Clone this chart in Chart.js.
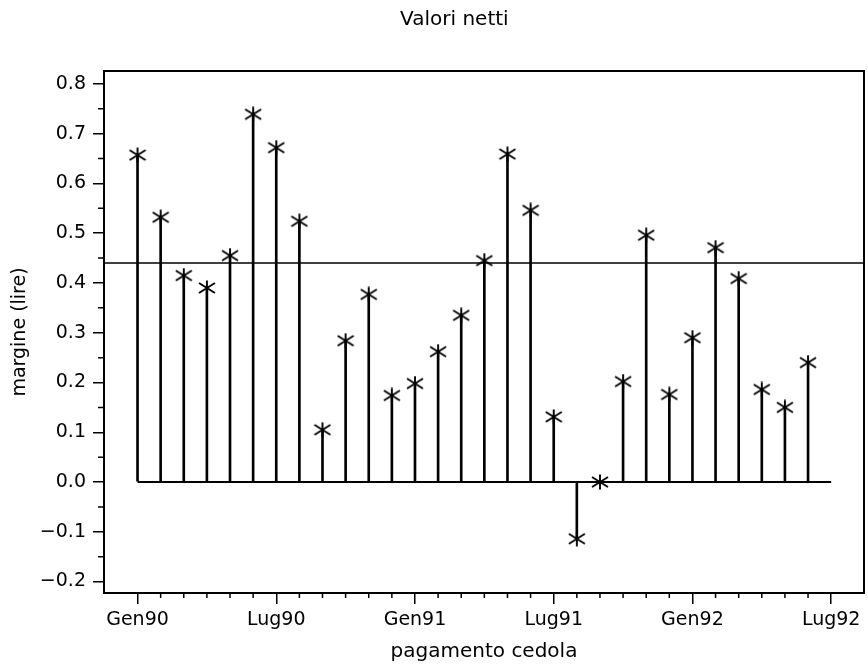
<!DOCTYPE html>
<html>
<head>
<meta charset="utf-8">
<title>Valori netti</title>
<script src="https://cdn.jsdelivr.net/npm/chart.js@4.4.0/dist/chart.umd.min.js"></script>
<style>
  html, body { margin: 0; padding: 0; background: #fff; }
</style>
</head>
<body>
<canvas id="myChart" width="868" height="665"></canvas>
<script>
const chartTitle = "Valori netti";

// months counted from Gen90 = 0 (one coupon per month, Gen90 .. Giu92)
const months = [0, 1, 2, 3, 4, 5, 6, 7, 8, 9, 10, 11, 12, 13, 14,
  15, 16, 17, 18, 19, 20, 21, 22, 23, 24, 25, 26, 27, 28, 29];
const margins = [0.657, 0.532, 0.415, 0.39, 0.455, 0.739, 0.672, 0.524, 0.105, 0.284,
  0.377, 0.174, 0.198, 0.262, 0.335, 0.445, 0.659, 0.546, 0.131, -0.114,
  0.0, 0.202, 0.496, 0.176, 0.29, 0.471, 0.409, 0.186, 0.15, 0.24];
const refLevel = 0.44;

const tickMonths = [0, 6, 12, 18, 24, 30];
const tickNames = ["Gen90", "Lug90", "Gen91", "Lug91", "Gen92", "Lug92"];
const yTicks = [-0.2, -0.1, 0.0, 0.1, 0.2, 0.3, 0.4, 0.5, 0.6, 0.7, 0.8];

const xMin = -1.45, xMax = 31.42;
const yMin = -0.223, yMax = 0.826;

Chart.defaults.font.family = "'DejaVu Sans', sans-serif";
Chart.defaults.font.size = 19;
Chart.defaults.color = "#000";

// asterisk marker
function makeStar() {
  const c = document.createElement("canvas");
  c.width = 18; c.height = 16;
  const g = c.getContext("2d");
  g.strokeStyle = "#000";
  g.lineWidth = 1.9;
  g.beginPath();
  g.moveTo(9, 0.5); g.lineTo(9, 15.5);
  g.moveTo(1, 3); g.lineTo(17, 13);
  g.moveTo(1, 13); g.lineTo(17, 3);
  g.stroke();
  return c;
}
const star = makeStar();

// box, minor ticks and the title
const framePlugin = {
  id: "frame",
  afterDraw(chart) {
    const { ctx, chartArea: a, scales } = chart;
    ctx.save();
    ctx.strokeStyle = "#000";
    ctx.lineWidth = 2;
    ctx.strokeRect(a.left, a.top, a.right - a.left, a.bottom - a.top);
    ctx.lineWidth = 1.5;
    ctx.beginPath();
    for (let m = tickMonths[0]; m <= tickMonths[tickMonths.length - 1]; m++) {
      if (m % 6 === 0) continue;
      const px = scales.x.getPixelForValue(m);
      ctx.moveTo(px, a.bottom);
      ctx.lineTo(px, a.bottom + 5);
    }
    for (let k = -4; k <= 16; k++) {
      if (k % 2 === 0) continue;
      const py = scales.y.getPixelForValue(k * 0.05);
      ctx.moveTo(a.left - 6, py);
      ctx.lineTo(a.left, py);
    }
    ctx.stroke();
    ctx.fillStyle = "#000";
    ctx.font = "20px 'DejaVu Sans', sans-serif";
    ctx.textAlign = "center";
    ctx.textBaseline = "middle";
    ctx.fillText(chartTitle, a.left + (a.right - a.left) * 0.461, 20);
    ctx.restore();
  }
};

const ctx = document.getElementById("myChart");

new Chart(ctx, {
  type: "scatter",
  data: {
    datasets: [
      {
        type: "scatter",
        data: months.map((m, i) => ({ x: m, y: margins[i] })),
        pointStyle: star,
        pointRadius: 0.5,
        pointBorderWidth: 0,
        order: 0
      },
      {
        type: "bar",
        data: months.map((m, i) => ({ x: m, y: margins[i] })),
        backgroundColor: "#000",
        barThickness: 2,
        order: 1
      },
      {
        type: "line",
        data: [{ x: tickMonths[0], y: 0 }, { x: tickMonths[tickMonths.length - 1], y: 0 }],
        borderColor: "#000",
        borderWidth: 2,
        pointRadius: 0,
        order: 2
      },
      {
        type: "line",
        data: [{ x: xMin, y: refLevel }, { x: xMax, y: refLevel }],
        borderColor: "#000",
        borderWidth: 1.5,
        pointRadius: 0,
        order: 2
      }
    ]
  },
  options: {
    responsive: false,
    animation: false,
    devicePixelRatio: 1,
    layout: { padding: { top: 71, right: 2, left: 0, bottom: 0 } },
    plugins: {
      legend: { display: false },
      tooltip: { enabled: false },
      title: { display: false }
    },
    scales: {
      x: {
        type: "linear",
        min: xMin,
        max: xMax,
        offset: false,
        afterBuildTicks: (s) => { s.ticks = tickMonths.map((v) => ({ value: v })); },
        afterFit: (s) => { s.height = 72; s.paddingLeft = 0; s.paddingRight = 0; },
        grid: { drawOnChartArea: false, offset: false, tickLength: 11, color: "#000", lineWidth: 1.5 },
        border: { display: false },
        ticks: {
          color: "#000",
          padding: 5,
          maxRotation: 0,
          autoSkip: false,
          callback: (v, i) => tickNames[i]
        },
        title: {
          display: true,
          text: "pagamento cedola",
          color: "#000",
          font: { size: 20 },
          padding: { top: 0, bottom: 1 }
        }
      },
      y: {
        type: "linear",
        min: yMin,
        max: yMax,
        afterBuildTicks: (s) => { s.ticks = yTicks.map((v) => ({ value: v })); },
        afterFit: (s) => { s.width = 104; s.paddingTop = 0; s.paddingBottom = 0; },
        grid: { drawOnChartArea: false, tickLength: 11, color: "#000", lineWidth: 1.5 },
        border: { display: false },
        ticks: {
          color: "#000",
          padding: 7,
          callback: (v) => (v < -0.001 ? "\u2212" : "") + Math.abs(v).toFixed(1)
        },
        title: {
          display: true,
          text: "margine (lire)",
          color: "#000",
          font: { size: 19 },
          padding: { top: 9, bottom: 0 }
        }
      }
    }
  },
  plugins: [framePlugin]
});
</script>
</body>
</html>
